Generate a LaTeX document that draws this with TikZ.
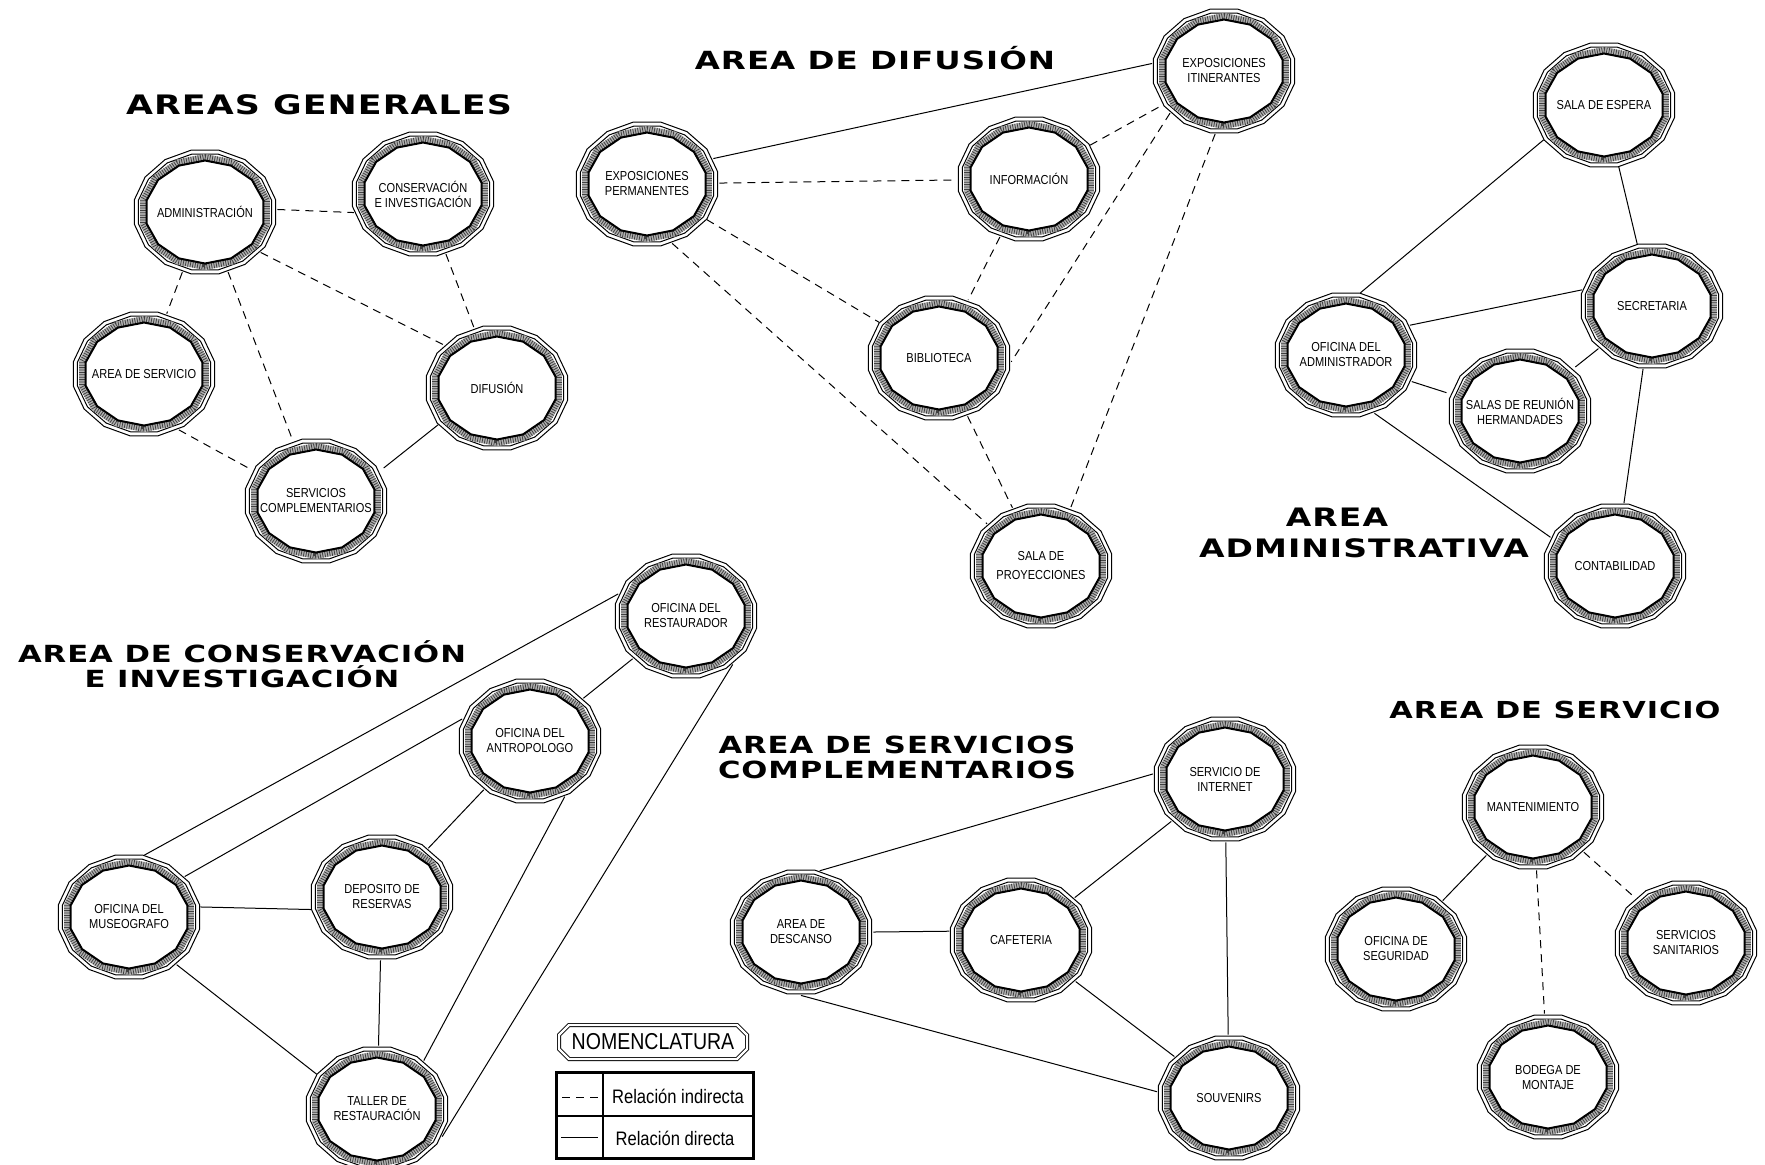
\documentclass[tikz,border=0pt]{standalone}
\usepackage{fontspec}
\usetikzlibrary{shapes.geometric,shapes.misc}
\newfontfamily\salafont{Liberation Sans}[FakeStretch=0.85]
\newfontfamily\titulofont{DejaVu Sans}[FakeStretch=1.3,LetterSpace=4]
\tikzset{
  sala/.style={ellipse, minimum width=72pt, minimum height=63pt, inner sep=0pt,
    align=center, font=\salafont\fontsize{6.5}{7.5}\selectfont},
  titulo/.style={font={\titulofont\bfseries\fontsize{#1}{12.5}\selectfont},
    align=center, inner sep=0pt},
  leyenda/.style={font=\salafont\fontsize{9.75}{10}\selectfont, inner sep=0pt},
  directa/.style={line width=0.5pt},
  indirecta/.style={line width=0.5pt, dash pattern=on 4pt off 3pt},
}
% contorno de cada sala: doble linea, banda rayada y linea gruesa
\newcommand{\anillo}[1]{%
  \draw[line width=0.5pt, shift={(#1.center)}] plot[samples=17, domain=11.25:371.25]
    ({72*cos(\x)},{63*sin(\x)}) -- cycle;
  \draw[line width=0.5pt, shift={(#1.center)}] plot[samples=17, domain=11.25:371.25]
    ({68*cos(\x)},{59*sin(\x)}) -- cycle;
  \draw[line width=3pt, black!30, shift={(#1.center)}] plot[samples=15, domain=90:450]
    ({63.5*cos(\x)},{55*sin(\x)}) -- cycle;
  \draw[line width=3pt, black!75, dash pattern=on 0.4pt off 0.8pt, shift={(#1.center)}]
    plot[samples=15, domain=90:450] ({63.5*cos(\x)},{55*sin(\x)}) -- cycle;
  \draw[line width=1pt, shift={(#1.center)}] plot[samples=15, domain=90:450]
    ({60*cos(\x)},{51.5*sin(\x)}) -- cycle;
}
\begin{document}
\begin{tikzpicture}[x=0.5pt, y=-0.5pt]
  \fill[white] (0,0) rectangle (1765,1164);
  \useasboundingbox (0,0) rectangle (1765,1164);

  % Areas generales
  \node[titulo=13.4] (tgen) at (319,105) {AREAS GENERALES};
  \node[sala] (adm) at (205,212) {ADMINISTRACIÓN};
  \node[sala] (con) at (423,194) {CONSERVACIÓN\\E INVESTIGACIÓN};
  \node[sala] (ase) at (144,374) {AREA DE SERVICIO};
  \node[sala] (dif) at (497,388) {DIFUSIÓN};
  \node[sala] (sco) at (316,501) {SERVICIOS\\COMPLEMENTARIOS};
  \draw[indirecta] (adm.2) -- (con.195);
  \draw[indirecta] (adm) -- (ase);
  \draw[indirecta] (adm) -- (sco);
  \draw[indirecta] (adm.-36) -- (dif.141);
  \draw[indirecta] (con) -- (dif);
  \draw[indirecta] (ase.-58) -- (sco.154);
  \draw[directa] (sco.26) -- (dif.212);

  % Area de difusion
  \node[titulo=12.5] (tdif) at (875,58) {AREA DE DIFUSIÓN};
  \node[sala] (epe) at (647,184) {EXPOSICIONES\\PERMANENTES};
  \node[sala] (inf) at (1029,179) {INFORMACIÓN};
  \node[sala] (eit) at (1224,71) {EXPOSICIONES\\ITINERANTES};
  \node[sala] (bib) at (939,358) {BIBLIOTECA};
  \node[sala] (spr) at (1041,566) {SALA DE\\[2pt]PROYECCIONES};
  \draw[directa] (epe.21) -- (eit.174);
  \draw[indirecta] (epe) -- (inf);
  \draw[indirecta] (epe) -- (bib);
  \draw[indirecta] (epe.-67) -- (spr.142);
  \draw[indirecta] (inf) -- (eit);
  \draw[indirecta] (inf) -- (bib);
  \draw[indirecta] (eit.218) -- (bib.357);
  \draw[indirecta] (eit.262) -- (spr.63);
  \draw[indirecta] (bib) -- (spr);

  % Area administrativa
  \node[titulo=12.7] (tadm) at (1337,517) {AREA};
  \node[titulo=12.7] (tadmb) at (1364,548) {ADMINISTRATIVA};
  \node[sala] (ses) at (1604,105) {SALA DE ESPERA};
  \node[sala] (sec) at (1652,306) {SECRETARIA};
  \node[sala] (ofa) at (1346,355) {OFICINA DEL\\ADMINISTRADOR};
  \node[sala] (sre) at (1520,411) {SALAS DE REUNIÓN\\HERMANDADES};
  \node[sala] (cnt) at (1615,566) {CONTABILIDAD};
  \draw[directa] (ofa.77) -- (ses.210);
  \draw[directa] (ses) -- (sec);
  \draw[directa] (ofa.25) -- (sec.167);
  \draw[directa] (ofa.-22) -- (sre.166);
  \draw[directa] (sec) -- (sre);
  \draw[directa] (sec) -- (cnt);
  \draw[directa] (ofa.-64) -- (cnt.156);

  % Area de conservacion e investigacion
  \node[titulo=11.8] (tcon) at (242,664) {AREA DE CONSERVACIÓN\\E INVESTIGACIÓN};
  \node[sala] (res) at (686,616) {OFICINA DEL\\RESTAURADOR};
  \node[sala] (ant) at (530,741) {OFICINA DEL\\ANTROPOLOGO};
  \node[sala] (mus) at (129,917) {OFICINA DEL\\MUSEOGRAFO};
  \node[sala] (dep) at (382,897) {DEPOSITO DE\\RESERVAS};
  \node[sala] (tal) at (377,1109) {TALLER DE\\RESTAURACIÓN};
  \draw[directa] (mus.76) -- (res.162);
  \draw[directa] (mus.36) -- (ant.162);
  \draw[directa] (res) -- (ant);
  \draw[directa] (ant) -- (dep);
  \draw[directa] (ant.302) -- (tal.46);
  \draw[directa] (res.314) -- (tal.337);
  \draw[directa] (mus.8) -- (dep.190);
  \draw[directa] (mus.-45) -- (tal.150);
  \draw[directa] (dep) -- (tal);

  % Area de servicios complementarios
  \node[titulo=11.8] (tsco) at (897,757) {AREA DE SERVICIOS\\COMPLEMENTARIOS};
  \node[sala] (int) at (1225,779) {SERVICIO DE\\INTERNET};
  \node[sala] (des) at (801,932) {AREA DE\\DESCANSO};
  \node[sala] (caf) at (1021,940) {CAFETERIA};
  \node[sala] (sou) at (1229,1098) {SOUVENIRS};
  \draw[directa] (des.73) -- (int.176);
  \draw[directa] (des.0) -- (caf.173);
  \draw[directa] (des.270) -- (sou.175);
  \draw[directa] (caf) -- (int);
  \draw[directa] (caf) -- (sou);
  \draw[directa] (int) -- (sou);

  % Area de servicio
  \node[titulo=11.7] (tser) at (1555,710) {AREA DE SERVICIO};
  \node[sala] (man) at (1533,807) {MANTENIMIENTO};
  \node[sala] (seg) at (1396,949) {OFICINA DE\\SEGURIDAD};
  \node[sala] (san) at (1686,943) {SERVICIOS\\SANITARIOS};
  \node[sala] (bod) at (1548,1077) {BODEGA DE\\MONTAJE};
  \draw[directa] (man) -- (seg);
  \draw[indirecta] (man) -- (san);
  \draw[indirecta] (man) -- (bod);

  % contornos
  \foreach \n in {adm,con,ase,dif,sco,epe,inf,eit,bib,spr,ses,sec,ofa,sre,cnt,
                  res,ant,mus,dep,tal,int,des,caf,sou,man,seg,san,bod}
    {\anillo{\n}}

  % Nomenclatura
  \node[draw, double, double distance=1.2pt, chamfered rectangle,
    chamfered rectangle xsep=2.5pt, chamfered rectangle ysep=2.5pt,
    minimum width=94pt, minimum height=17pt, inner sep=1pt,
    font=\salafont\fontsize{11.5}{12}\selectfont] (nomen) at (653,1042) {NOMENCLATURA};
  \draw[line width=1.5pt] (556,1072) rectangle (753,1158);
  \draw[line width=0.7pt] (603,1072) -- (603,1158) (556,1116) -- (753,1116);
  \node[leyenda] (tind) at (678,1096) {Relación indirecta};
  \node[leyenda] (tdir) at (675,1138) {Relación directa};
  \coordinate (ia) at (562,1097);
  \coordinate (ib) at (598,1097);
  \coordinate (da) at (561,1137);
  \coordinate (db) at (598,1137);
  \draw[indirecta] (ia) -- (ib);
  \draw[directa] (da) -- (db);
\end{tikzpicture}
\end{document}
